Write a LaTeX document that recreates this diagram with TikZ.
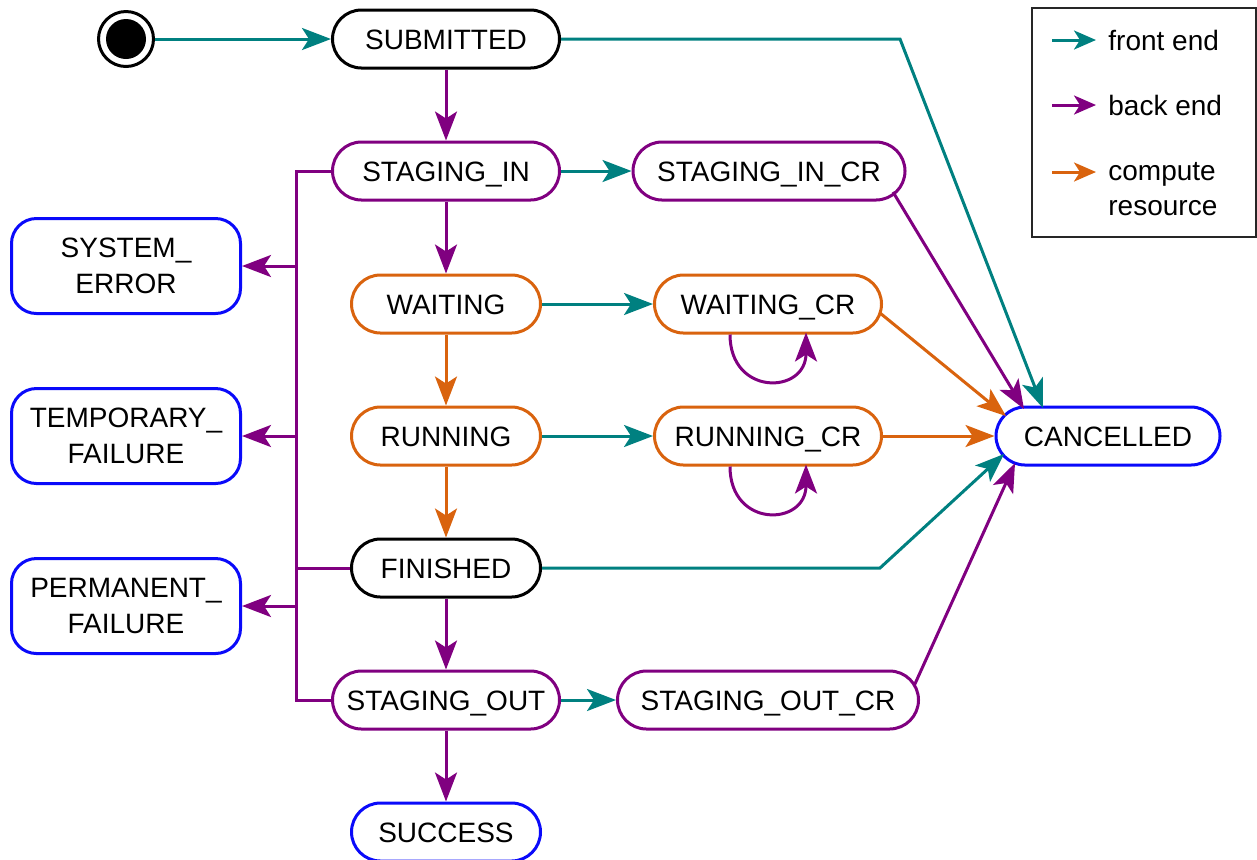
\documentclass[tikz,border=0pt]{standalone}
\usepackage{fontspec}
\setmainfont{Liberation Sans}
\usetikzlibrary{arrows.meta,calc}
\definecolor{fecol}{RGB}{0,128,128}
\definecolor{becol}{RGB}{128,0,128}
\definecolor{crcol}{RGB}{217,99,14}
\definecolor{endcol}{RGB}{10,10,250}
\begin{document}
\begin{tikzpicture}[x=0.5pt,y=-0.5pt,
  state/.style={draw,line width=1.5pt,fill=white,rounded corners=14.5pt,
    minimum height=29pt,inner sep=0pt,text height=10pt,text depth=0pt,
    font=\fontsize{14pt}{18pt}\selectfont},
  wA/.style={minimum width=113.5pt},
  wB/.style={minimum width=94.5pt},
  sideout/.style={draw=endcol,line width=1.5pt,fill=white,rounded corners=12.5pt,
    minimum width=114.5pt,minimum height=47.5pt,inner sep=0pt,align=center,
    font=\fontsize{14pt}{18pt}\selectfont},
  tip/.style={-{Stealth[length=14.5pt,width=11pt,inset=3.5pt]}},
  ltip/.style={-{Stealth[length=11pt,width=9.5pt,inset=3pt]}},
  fe/.style={draw=fecol,line width=1.5pt},
  be/.style={draw=becol,line width=1.5pt},
  cr/.style={draw=crcol,line width=1.5pt},
  legtext/.style={anchor=west,inner sep=0pt,align=left,font=\fontsize{14pt}{17.5pt}\selectfont}
]
\useasboundingbox (0,0) rectangle (1257,859);

% start
\node[circle,draw=black,line width=1.5pt,fill=white,minimum size=27.5pt,inner sep=0pt] (start) at (126,39) {};
\fill[black] (start.center) circle[radius=10pt];

% states
\node[state,wA] (sub) at (446,39) {SUBMITTED};
\node[state,wA,draw=becol] (sin) at (446,171) {STAGING\_IN};
\node[state,draw=becol,minimum width=136pt] (sincr) at (769,171) {STAGING\_IN\_CR};
\node[state,wB,draw=crcol] (wait) at (446,304) {WAITING};
\node[state,wA,draw=crcol] (wcr) at (768,304) {WAITING\_CR};
\node[state,wB,draw=crcol] (run) at (446,436) {RUNNING};
\node[state,wA,draw=crcol] (rcr) at (768,436) {RUNNING\_CR};
\node[state,draw=endcol,minimum width=112pt] (canc) at (1108,436) {CANCELLED};
\node[state,wB] (fin) at (446,568) {FINISHED};
\node[state,wA,draw=becol] (sout) at (446,700) {STAGING\_OUT};
\node[state,draw=becol,minimum width=150.5pt] (soutcr) at (768,700) {STAGING\_OUT\_CR};
\node[state,wB,draw=endcol] (succ) at (446,832) {SUCCESS};

\node[sideout] (syserr) at (126,266) {SYSTEM\_\\ERROR};
\node[sideout] (tmpf) at (126,436) {TEMPORARY\_\\FAILURE};
\node[sideout] (permf) at (126,606) {PERMANENT\_\\FAILURE};

% main flow
\draw[fe,tip] (start) -- (sub);
\draw[be,tip] (sub) -- (sin);
\draw[be,tip] (sin) -- (wait);
\draw[cr,tip] (wait) -- (run);
\draw[cr,tip] (run) -- (fin);
\draw[be,tip] (fin) -- (sout);
\draw[be,tip] (sout) -- (succ);

% to _CR
\draw[fe,tip] (sin) -- (sincr);
\draw[fe,tip] (wait) -- (wcr);
\draw[fe,tip] (run) -- (rcr);
\draw[fe,tip] (sout) -- (soutcr);

% self loops
\draw[be,tip] ($(wcr.south)+(-38,0)$) .. controls +(0,62) and +(0,62) .. ($(wcr.south)+(38,-2)$);
\draw[be,tip] ($(rcr.south)+(-38,0)$) .. controls +(0,62) and +(0,62) .. ($(rcr.south)+(38,-2)$);

% to CANCELLED
\coordinate (subbend) at (900,39);
\draw[fe,tip] (sub.east) -- (subbend) -- ($(canc.center)+(-65,-28)$);
\draw[be,tip] ($(sincr.center)+(124,21)$) -- ($(canc.center)+(-84,-27)$);
\draw[cr,tip] ($(wcr.center)+(112,9)$) -- ($(canc.center)+(-102,-20)$);
\draw[cr,tip] (rcr) -- (canc);
\coordinate (finbend) at (880,568);
\draw[fe,tip] (fin.east) -- (finbend) -- ($(canc.center)+(-104,18)$);
\draw[be,tip] ($(soutcr.center)+(146,-14)$) -- ($(canc.center)+(-93,27)$);

% error bus
\coordinate (bustop) at (296,171);
\coordinate (busbot) at (296,700);
\draw[be] (sin.west) -- (bustop) -- (busbot) -- (sout.west);
\draw[be] (fin.west) -- (fin.west -| bustop);
\draw[be,tip] (bustop |- syserr) -- (syserr);
\draw[be,tip] (bustop |- tmpf) -- (tmpf);
\draw[be,tip] (bustop |- permf) -- (permf);

% legend
\node[draw=black!85,line width=0.75pt,minimum width=112pt,minimum height=114.5pt,inner sep=0pt] (legend) at (1144,122.5) {};
\coordinate (l1a) at (1052,40); \coordinate (l1b) at (1096,40);
\coordinate (l2a) at (1052,105); \coordinate (l2b) at (1096,105);
\coordinate (l3a) at (1052,172); \coordinate (l3b) at (1096,172);
\draw[fe,ltip] (l1a) -- (l1b);
\draw[be,ltip] (l2a) -- (l2b);
\draw[cr,ltip] (l3a) -- (l3b);
\node[legtext] (t1) at (1108,40) {front end};
\node[legtext] (t2) at (1108,105) {back end};
\node[legtext] (t3) at (1108,189.5) {compute\\resource};
\end{tikzpicture}
\end{document}
